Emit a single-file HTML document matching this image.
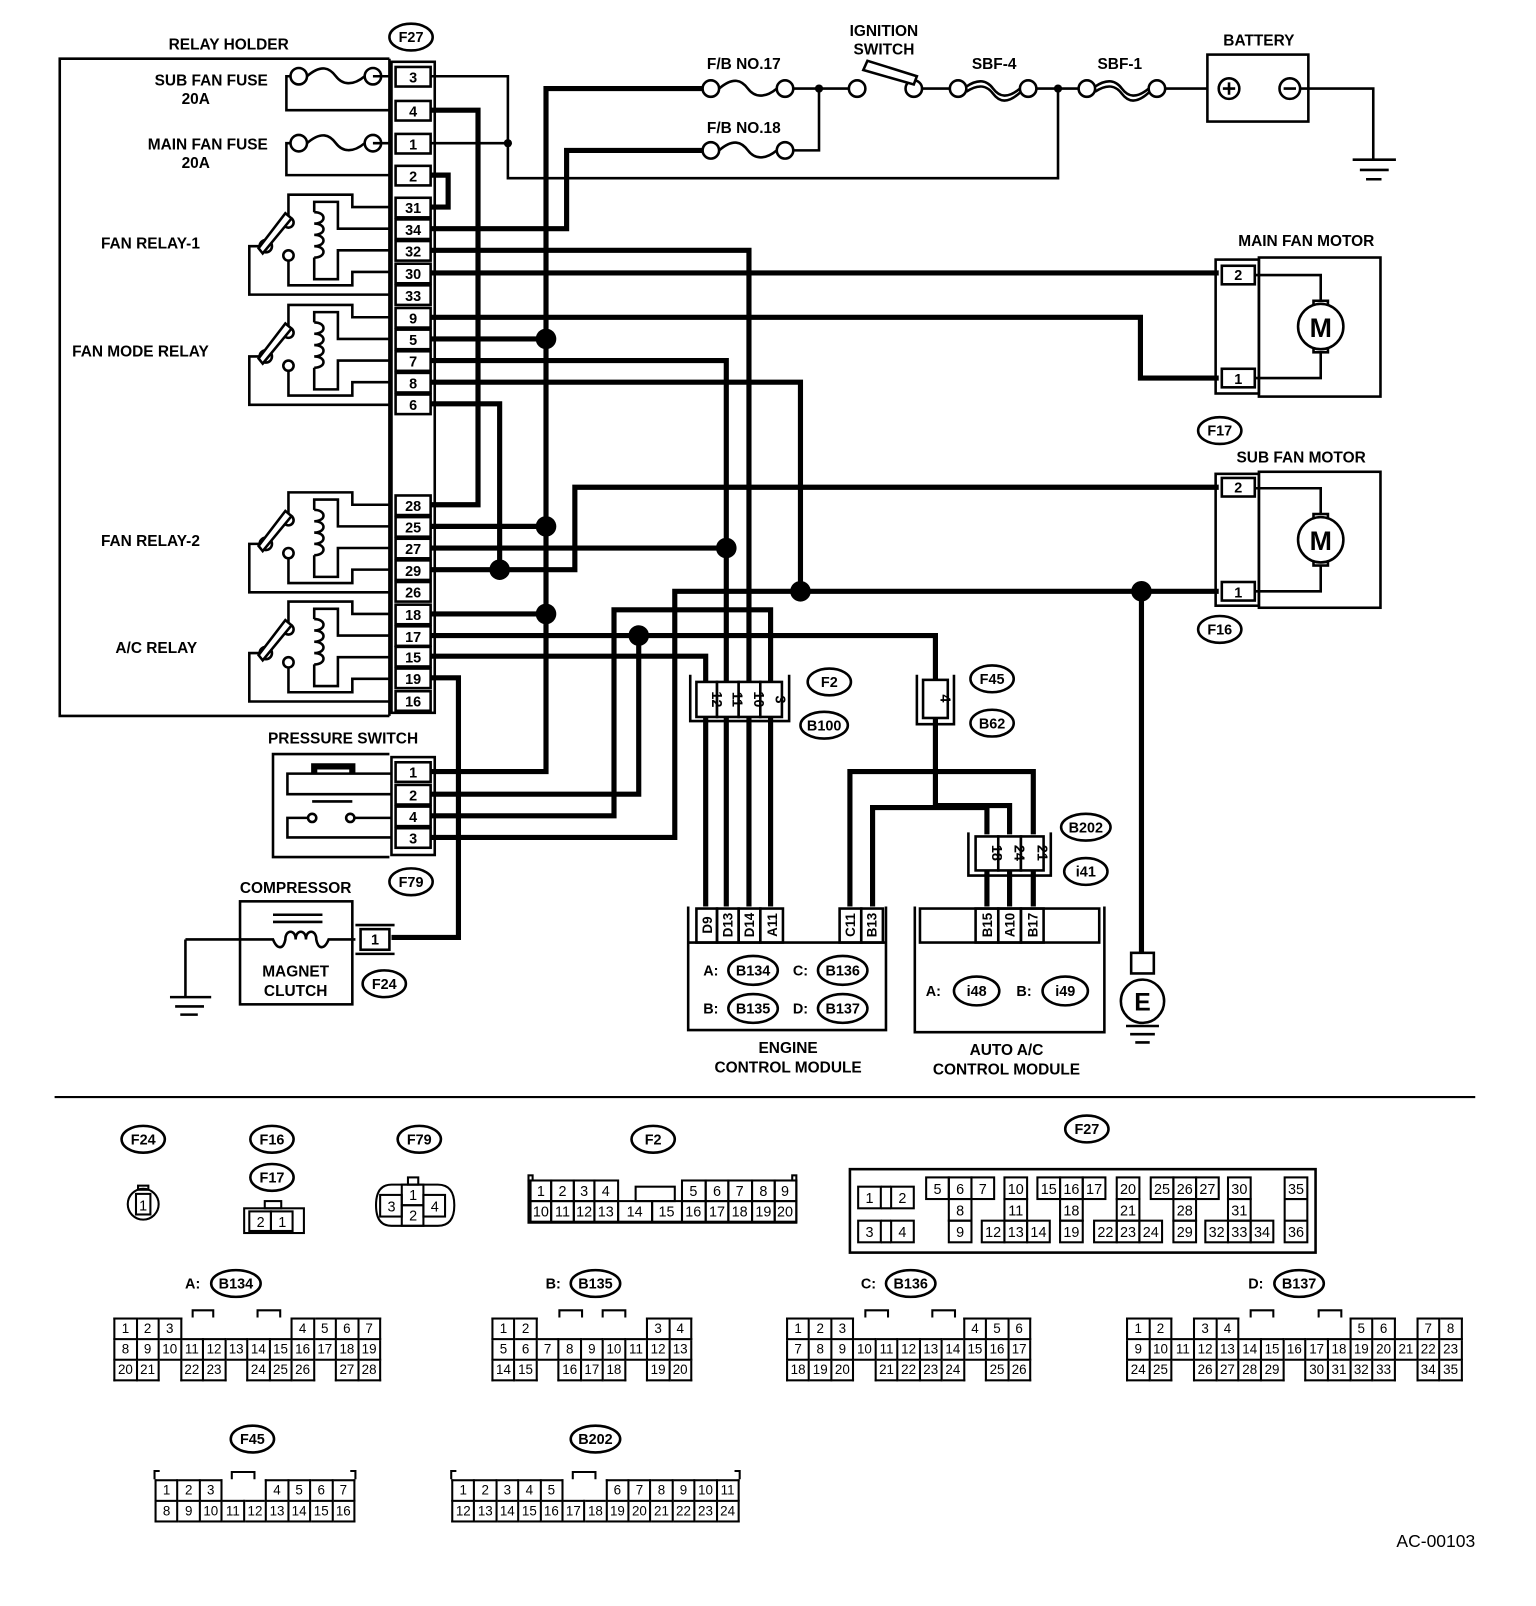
<!DOCTYPE html>
<html><head><meta charset="utf-8">
<style>
html,body{margin:0;padding:0;background:#fff;width:1536px;height:1606px;overflow:hidden}
#w{position:absolute;left:0;top:0;width:1491px;height:1559px;transform:scale(1.0302,1.0301);transform-origin:0 0}
svg{position:absolute;left:0;top:0}
svg text{font-family:"Liberation Sans",sans-serif;font-weight:bold;fill:#000}
svg .n text, svg text.n{font-weight:normal}
table{position:absolute;border-collapse:collapse;table-layout:fixed}
td{border:2px solid #000;padding:0;height:18px;font:13px "Liberation Sans",sans-serif;text-align:center;line-height:16px;overflow:hidden}
td.e{border:none}
</style></head><body><div id="w">
<svg width="1491" height="1559" viewBox="0 0 1491 1559">
<defs>
<g id="relay" fill="none" stroke="#000" stroke-width="2.5">
<path d="M378,0 H342 V-12 H280 V10"/>
<circle cx="280" cy="15" r="5" fill="#fff"/>
<path d="M378,21 H328 V-5 H305 V5"/>
<path d="M305,5 c12,0 12,11 0,11 c12,0 12,11 0,11 c12,0 12,11 0,11 c12,0 12,11 0,11"/>
<path d="M305,49 V70 H328 V42 H378"/>
<path d="M378,63 H342 V76 H280 V52"/>
<circle cx="280" cy="47" r="5" fill="#fff"/>
<circle cx="258" cy="38" r="6" fill="#fff"/>
<path d="M252,38 H242 V85 H378"/>
<path d="M255,45 L283,11 L277,6 L251,40 Z" fill="#fff"/>
</g>
<g id="fuse" fill="none" stroke="#000" stroke-width="2.5">
<circle cx="0" cy="0" r="8" fill="#fff"/><circle cx="72" cy="0" r="8" fill="#fff"/>
<path d="M8,0 C22,-12 30,-8 36,0 S52,10 64,0"/>
</g>
<g id="fuse2" fill="none" stroke="#000" stroke-width="2.5">
<circle cx="0" cy="0" r="8" fill="#fff"/><circle cx="68" cy="0" r="8" fill="#fff"/>
<path d="M8,-2 C20,-10 28,-8 34,0 S48,10 60,0"/><path d="M8,3 C20,-5 28,-3 34,5 S48,15 60,4"/>
</g>
</defs>

<g fill="none" stroke="#000" stroke-width="2.5">
<path d="M378,57 H58 V695 H378"/>
<line x1="378" y1="57" x2="378" y2="695"/>
<rect x="380" y="60" width="42" height="632"/>
</g>
<text x="222" y="48" font-size="15" text-anchor="middle">RELAY HOLDER</text>
<ellipse cx="399" cy="36" rx="21" ry="13" fill="none" stroke="#000" stroke-width="2.5"/><text x="399" y="41" font-size="14" text-anchor="middle">F27</text>
<text x="260" y="83" font-size="15" text-anchor="end">SUB FAN FUSE</text>
<text x="190" y="101" font-size="15" text-anchor="middle">20A</text>
<text x="260" y="145" font-size="15" text-anchor="end">MAIN FAN FUSE</text>
<text x="190" y="163" font-size="15" text-anchor="middle">20A</text>
<text x="98" y="241" font-size="15">FAN RELAY-1</text>
<text x="70" y="346" font-size="15">FAN MODE RELAY</text>
<text x="98" y="530" font-size="15">FAN RELAY-2</text>
<text x="112" y="634" font-size="15">A/C RELAY</text>

<use href="#fuse" x="290" y="74"/>
<use href="#fuse" x="290" y="139"/>
<g fill="none" stroke="#000" stroke-width="2.5">
<path d="M362,74 H380 M282,74 H278 V107 H380"/>
<path d="M362,139 H380 M282,139 H278 V170 H380"/>
</g>
<use href="#relay" y="201"/>
<use href="#relay" y="308"/>
<use href="#relay" y="490"/>
<use href="#relay" y="596"/>

<g fill="#fff" stroke="#000" stroke-width="2.5">
<rect x="384" y="65" width="34" height="19"/><rect x="384" y="98" width="34" height="19"/><rect x="384" y="130" width="34" height="19"/><rect x="384" y="161" width="34" height="19"/>
<rect x="384" y="192" width="34" height="19"/><rect x="384" y="213" width="34" height="19"/><rect x="384" y="234" width="34" height="19"/><rect x="384" y="256" width="34" height="19"/><rect x="384" y="277" width="34" height="19"/>
<rect x="384" y="299" width="34" height="19"/><rect x="384" y="320" width="34" height="19"/><rect x="384" y="341" width="34" height="19"/><rect x="384" y="362" width="34" height="19"/><rect x="384" y="383" width="34" height="19"/>
<rect x="384" y="481" width="34" height="19"/><rect x="384" y="502" width="34" height="19"/><rect x="384" y="523" width="34" height="19"/><rect x="384" y="544" width="34" height="19"/><rect x="384" y="565" width="34" height="19"/>
<rect x="384" y="587" width="34" height="19"/><rect x="384" y="608" width="34" height="19"/><rect x="384" y="628" width="34" height="19"/><rect x="384" y="649" width="34" height="19"/><rect x="384" y="671" width="34" height="19"/>
</g>
<g font-size="14" text-anchor="middle">
<text x="401" y="80">3</text><text x="401" y="113">4</text><text x="401" y="145">1</text><text x="401" y="176">2</text>
<text x="401" y="207">31</text><text x="401" y="228">34</text><text x="401" y="249">32</text><text x="401" y="271">30</text><text x="401" y="292">33</text>
<text x="401" y="314">9</text><text x="401" y="335">5</text><text x="401" y="356">7</text><text x="401" y="377">8</text><text x="401" y="398">6</text>
<text x="401" y="496">28</text><text x="401" y="517">25</text><text x="401" y="538">27</text><text x="401" y="559">29</text><text x="401" y="580">26</text>
<text x="401" y="602">18</text><text x="401" y="623">17</text><text x="401" y="643">15</text><text x="401" y="664">19</text><text x="401" y="686">16</text>
</g>

<g fill="none" stroke="#000" stroke-width="2.5">
<path d="M418,74 H493 V173 H1027 V86"/>
<path d="M418,139 H493"/>
<path d="M768,86 H832 M895,86 H922 M1006,86 H1047 M1131,86 H1172"/>
<path d="M768,146 H795 V86"/>
<path d="M1262,86 H1333 V155"/>
<path d="M1313,155 H1355 M1320,165 H1348 M1326,174 H1341"/>
</g>
<circle cx="493" cy="139" r="4"/><circle cx="795" cy="86" r="4"/><circle cx="1027" cy="86" r="4"/>

<g fill="none" stroke="#000" stroke-width="5">
<path d="M418,170 H435 V201 H418"/>
<path d="M418,107 H464 V490 H418"/>
<path d="M682,86 H530 V749 H418"/>
<path d="M418,222 H550 V146 H682"/>
<path d="M418,243 H727 V880"/>
<path d="M418,265 H1183"/>
<path d="M418,308 H1107 V367 H1183"/>
<path d="M418,329 H530"/>
<path d="M418,350 H705 V880"/>
<path d="M418,371 H777 V574"/>
<path d="M418,392 H485 V553"/>
<path d="M418,511 H530"/>
<path d="M418,532 H705"/>
<path d="M418,553 H558 V473 H1183"/>
<path d="M418,596 H530"/>
<path d="M418,617 H908 V782 H980 V810"/>
<path d="M620,617 V771 H418"/>
<path d="M418,637 H685 V880"/>
<path d="M418,658 H445 V910 H380"/>
<path d="M418,792 H596 V592 H748 V880"/>
<path d="M418,813 H655 V574 H1183"/>
<path d="M1108,574 V925"/>
<path d="M825,880 V749 H1003 V810"/>
<path d="M847,880 V784 H958 V810"/>
<path d="M958,845 V880 M980,845 V880 M1003,845 V880"/>
</g>
<g>
<circle cx="530" cy="329" r="10"/><circle cx="530" cy="511" r="10"/><circle cx="530" cy="596" r="10"/><circle cx="485" cy="553" r="10"/>
<circle cx="705" cy="532" r="10"/><circle cx="777" cy="574" r="10"/><circle cx="620" cy="617" r="10"/><circle cx="1108" cy="574" r="10"/>
</g>

<use href="#fuse" x="690" y="86"/>
<use href="#fuse" x="690" y="146"/>
<text x="722" y="67" font-size="15" text-anchor="middle">F/B NO.17</text>
<text x="722" y="129" font-size="15" text-anchor="middle">F/B NO.18</text>
<text x="858" y="35" font-size="15" text-anchor="middle">IGNITION</text>
<text x="858" y="53" font-size="15" text-anchor="middle">SWITCH</text>
<g fill="#fff" stroke="#000" stroke-width="2.5">
<circle cx="832" cy="86" r="8"/><circle cx="887" cy="86" r="8"/>
<path d="M838,68 L887,82 L890,74 L842,59 Z"/>
</g>
<use href="#fuse2" x="930" y="86"/>
<use href="#fuse2" x="1055" y="86"/>
<text x="965" y="67" font-size="15" text-anchor="middle">SBF-4</text>
<text x="1087" y="67" font-size="15" text-anchor="middle">SBF-1</text>
<text x="1222" y="44" font-size="15" text-anchor="middle">BATTERY</text>
<g fill="none" stroke="#000" stroke-width="2.5">
<rect x="1172" y="53" width="98" height="65"/>
<circle cx="1193" cy="86" r="10"/><circle cx="1252" cy="86" r="10"/>
<path d="M1187,86 H1199 M1193,80 V92 M1246,86 H1258"/>
</g>

<text x="1268" y="239" font-size="15" text-anchor="middle">MAIN FAN MOTOR</text>
<text x="1263" y="449" font-size="15" text-anchor="middle">SUB FAN MOTOR</text>
<g fill="none" stroke="#000" stroke-width="2.5">
<rect x="1180" y="252" width="42" height="130"/><rect x="1186" y="258" width="32" height="18"/><rect x="1186" y="358" width="32" height="18"/>
<rect x="1222" y="250" width="118" height="135"/>
<path d="M1218,267 H1282 V292 M1218,367 H1282 V342"/>
<rect x="1275" y="292" width="14" height="50" fill="#fff"/>
<circle cx="1282" cy="317" r="22" fill="#fff"/>
<rect x="1180" y="460" width="42" height="128"/><rect x="1186" y="464" width="32" height="18"/><rect x="1186" y="565" width="32" height="18"/>
<rect x="1222" y="458" width="118" height="132"/>
<path d="M1218,474 H1282 V499 M1218,574 H1282 V549"/>
<rect x="1275" y="499" width="14" height="50" fill="#fff"/>
<circle cx="1282" cy="524" r="22" fill="#fff"/>
</g>
<text x="1282" y="327" font-size="26" text-anchor="middle">M</text>
<text x="1282" y="534" font-size="26" text-anchor="middle">M</text>
<text x="1202" y="272" font-size="14" text-anchor="middle">2</text><text x="1202" y="373" font-size="14" text-anchor="middle">1</text>
<text x="1202" y="478" font-size="14" text-anchor="middle">2</text><text x="1202" y="580" font-size="14" text-anchor="middle">1</text>
<g fill="none" stroke="#000" stroke-width="2.5">
<ellipse cx="1184" cy="418" rx="21" ry="13"/><ellipse cx="1184" cy="611" rx="21" ry="13"/>
</g>
<text x="1184" y="423" font-size="14" text-anchor="middle">F17</text><text x="1184" y="616" font-size="14" text-anchor="middle">F16</text>

<text x="333" y="722" font-size="15" text-anchor="middle">PRESSURE SWITCH</text>
<g fill="none" stroke="#000" stroke-width="2.5">
<path d="M378,732 H265 V832 H378"/><rect x="380" y="735" width="42" height="95"/>
<rect x="384" y="740" width="34" height="19" fill="#fff"/><rect x="384" y="762" width="34" height="19" fill="#fff"/><rect x="384" y="783" width="34" height="19" fill="#fff"/><rect x="384" y="804" width="34" height="19" fill="#fff"/>
<path d="M380,751 H279 V771 H380"/>
<path d="M380,794 H345 M299,794 H279 V813 H380"/>
<circle cx="303" cy="794" r="4"/><circle cx="340" cy="794" r="4"/>
<path d="M303,778 H342"/>
</g>
<path d="M305,751 V744 H342 V751" fill="none" stroke="#000" stroke-width="6"/>
<g font-size="14" text-anchor="middle"><text x="401" y="755">1</text><text x="401" y="777">2</text><text x="401" y="798">4</text><text x="401" y="819">3</text></g>
<ellipse cx="399" cy="856" rx="21" ry="13" fill="none" stroke="#000" stroke-width="2.5"/><text x="399" y="861" font-size="14" text-anchor="middle">F79</text>

<text x="287" y="867" font-size="15" text-anchor="middle">COMPRESSOR</text>
<g fill="none" stroke="#000" stroke-width="2.5">
<rect x="233" y="875" width="109" height="100"/>
<path d="M265,888 H313 M265,895 H313"/>
<path d="M180,912 H265 c4,10 10,10 12,0 c0,-10 10,-10 10,0 c0,-10 10,-10 10,0 c0,-10 10,-10 10,0 c2,10 8,10 12,0 H345"/>
<path d="M180,912 V968 M165,968 H205 M170,977 H198 M175,985 H192"/>
<path d="M345,898 H383 M345,926 H383"/>
<rect x="350" y="902" width="28" height="20" fill="#fff"/>
</g>
<text x="364" y="917" font-size="14" text-anchor="middle">1</text>
<text x="287" y="948" font-size="15" text-anchor="middle">MAGNET</text>
<text x="287" y="967" font-size="15" text-anchor="middle">CLUTCH</text>
<ellipse cx="373" cy="955" rx="21" ry="13" fill="none" stroke="#000" stroke-width="2.5"/><text x="373" y="960" font-size="14" text-anchor="middle">F24</text>

<g fill="none" stroke="#000" stroke-width="2.5">
<path d="M670,655 V700 H766 V655"/>
<rect x="676" y="662" width="20" height="34" fill="#fff"/><rect x="696" y="662" width="21" height="34" fill="#fff"/><rect x="717" y="662" width="21" height="34" fill="#fff"/><rect x="738" y="662" width="21" height="34" fill="#fff"/>
<path d="M890,655 V703 H926 V655"/><rect x="896" y="660" width="24" height="37" fill="#fff"/>
<path d="M940,808 V850 H1020 V808"/>
<rect x="947" y="812" width="22" height="33" fill="#fff"/><rect x="969" y="812" width="22" height="33" fill="#fff"/><rect x="991" y="812" width="22" height="33" fill="#fff"/>
</g>
<g font-size="14" text-anchor="middle">
<text transform="translate(691,679) rotate(90)">12</text><text transform="translate(711,679) rotate(90)">11</text><text transform="translate(732,679) rotate(90)">10</text><text transform="translate(753,679) rotate(90)">3</text>
<text transform="translate(913,678) rotate(90)">4</text>
<text transform="translate(963,828) rotate(90)">18</text><text transform="translate(985,828) rotate(90)">24</text><text transform="translate(1007,828) rotate(90)">21</text>
</g>
<g fill="none" stroke="#000" stroke-width="2.5">
<ellipse cx="805" cy="662" rx="21" ry="13"/><ellipse cx="800" cy="704" rx="23" ry="13"/>
<ellipse cx="963" cy="659" rx="21" ry="13"/><ellipse cx="963" cy="702" rx="21" ry="13"/>
<ellipse cx="1054" cy="803" rx="24" ry="13"/><ellipse cx="1054" cy="846" rx="21" ry="13"/>
</g>
<g font-size="14" text-anchor="middle">
<text x="805" y="667">F2</text><text x="800" y="709">B100</text><text x="963" y="664">F45</text><text x="963" y="707">B62</text><text x="1054" y="808">B202</text><text x="1054" y="851">i41</text>
</g>

<g fill="none" stroke="#000" stroke-width="2.5">
<path d="M668,880 V1000 H860 V880"/><path d="M668,915 H860"/>
<rect x="676" y="882" width="20" height="33"/><rect x="696" y="882" width="21" height="33"/><rect x="717" y="882" width="21" height="33"/><rect x="738" y="882" width="22" height="33"/>
<rect x="815" y="882" width="21" height="33"/><rect x="836" y="882" width="21" height="33"/>
<path d="M888,880 V1002 H1072 V880"/><rect x="893" y="882" width="174" height="33"/>
<rect x="947" y="882" width="22" height="33"/><rect x="969" y="882" width="22" height="33"/><rect x="991" y="882" width="22" height="33"/>
</g>
<g font-size="13" text-anchor="middle">
<text transform="translate(691,898) rotate(-90)">D9</text><text transform="translate(711,898) rotate(-90)">D13</text><text transform="translate(732,898) rotate(-90)">D14</text><text transform="translate(754,898) rotate(-90)">A11</text>
<text transform="translate(830,898) rotate(-90)">C11</text><text transform="translate(851,898) rotate(-90)">B13</text>
<text transform="translate(963,898) rotate(-90)">B15</text><text transform="translate(985,898) rotate(-90)">A10</text><text transform="translate(1007,898) rotate(-90)">B17</text>
</g>
<g fill="none" stroke="#000" stroke-width="2.5">
<ellipse cx="731" cy="942" rx="24" ry="14"/><ellipse cx="818" cy="942" rx="24" ry="14"/><ellipse cx="731" cy="979" rx="24" ry="14"/><ellipse cx="818" cy="979" rx="24" ry="14"/>
<ellipse cx="948" cy="962" rx="22" ry="14"/><ellipse cx="1034" cy="962" rx="22" ry="14"/>
</g>
<g font-size="14" text-anchor="middle">
<text x="690" y="947">A:</text><text x="731" y="947">B134</text><text x="777" y="947">C:</text><text x="818" y="947">B136</text>
<text x="690" y="984">B:</text><text x="731" y="984">B135</text><text x="777" y="984">D:</text><text x="818" y="984">B137</text>
<text x="906" y="967">A:</text><text x="948" y="967">i48</text><text x="994" y="967">B:</text><text x="1034" y="967">i49</text>
</g>
<g font-size="15" text-anchor="middle">
<text x="765" y="1022">ENGINE</text><text x="765" y="1041">CONTROL MODULE</text>
<text x="977" y="1024">AUTO A/C</text><text x="977" y="1043">CONTROL MODULE</text>
</g>
<g fill="none" stroke="#000" stroke-width="2.5">
<rect x="1098" y="925" width="22" height="20"/><circle cx="1109" cy="972" r="21"/>
<path d="M1093,996 H1125 M1097,1004 H1121 M1102,1012 H1116"/>
</g>
<text x="1109" y="981" font-size="24" text-anchor="middle">E</text>

<line x1="53" y1="1065" x2="1432" y2="1065" stroke="#000" stroke-width="2"/>

<g fill="none" stroke="#000" stroke-width="2.5">
<ellipse cx="139" cy="1106" rx="21" ry="13"/><ellipse cx="264" cy="1106" rx="21" ry="13"/><ellipse cx="264" cy="1143" rx="21" ry="13"/><ellipse cx="407" cy="1106" rx="21" ry="13"/>
<ellipse cx="634" cy="1106" rx="21" ry="13"/><ellipse cx="1055" cy="1096" rx="21" ry="13"/>
<ellipse cx="229" cy="1246" rx="24" ry="13"/><ellipse cx="578" cy="1246" rx="24" ry="13"/><ellipse cx="884" cy="1246" rx="24" ry="13"/><ellipse cx="1261" cy="1246" rx="24" ry="13"/>
<ellipse cx="245" cy="1397" rx="21" ry="13"/><ellipse cx="578" cy="1397" rx="24" ry="13"/>
</g>
<g font-size="14" text-anchor="middle">
<text x="139" y="1111">F24</text><text x="264" y="1111">F16</text><text x="264" y="1148">F17</text><text x="407" y="1111">F79</text>
<text x="634" y="1111">F2</text><text x="1055" y="1101">F27</text>
<text x="229" y="1251">B134</text><text x="578" y="1251">B135</text><text x="884" y="1251">B136</text><text x="1261" y="1251">B137</text>
<text x="245" y="1402">F45</text><text x="578" y="1402">B202</text>
<text x="187" y="1251">A:</text><text x="537" y="1251">B:</text><text x="843" y="1251">C:</text><text x="1219" y="1251">D:</text>
</g>
<g fill="none" stroke="#000" stroke-width="2">
<circle cx="139" cy="1169" r="15"/><rect x="132" y="1159" width="14" height="20"/><rect x="134" y="1151" width="10" height="4"/>
<rect x="237" y="1173" width="58" height="24"/><rect x="242" y="1176" width="21" height="19"/><rect x="263" y="1176" width="21" height="19"/><rect x="257" y="1166" width="16" height="7"/>
<path d="M380,1150 H425 Q441,1150 441,1170 Q441,1190 425,1190 H380 Q365,1190 365,1170 Q365,1150 380,1150 Z"/>
<rect x="369" y="1160" width="21" height="21"/><rect x="390" y="1150" width="21" height="20"/><rect x="390" y="1170" width="21" height="20"/><rect x="411" y="1160" width="21" height="21"/><rect x="396" y="1143" width="10" height="7"/>
</g>
<g class="n" font-size="14" text-anchor="middle">
<text x="139" y="1175">1</text><text x="253" y="1191">2</text><text x="274" y="1191">1</text>
<text x="380" y="1176">3</text><text x="401" y="1165">1</text><text x="401" y="1185">2</text><text x="422" y="1176">4</text>
</g>
<g fill="none" stroke="#000" stroke-width="2">
<path d="M513,1145 V1187 H773 V1145"/><rect x="513" y="1141" width="4" height="5"/><rect x="769" y="1141" width="4" height="5"/>
<rect x="515" y="1146" width="20" height="20"/><rect x="535" y="1146" width="22" height="20"/><rect x="557" y="1146" width="20" height="20"/><rect x="577" y="1146" width="23" height="20"/>
<rect x="617" y="1152" width="38" height="14"/>
<rect x="662" y="1146" width="23" height="20"/><rect x="685" y="1146" width="22" height="20"/><rect x="707" y="1146" width="23" height="20"/><rect x="730" y="1146" width="22" height="20"/><rect x="752" y="1146" width="21" height="20"/>
<rect x="515" y="1166" width="20" height="20"/><rect x="535" y="1166" width="22" height="20"/><rect x="557" y="1166" width="20" height="20"/><rect x="577" y="1166" width="23" height="20"/><rect x="600" y="1166" width="33" height="20"/><rect x="633" y="1166" width="29" height="20"/>
<rect x="662" y="1166" width="23" height="20"/><rect x="685" y="1166" width="22" height="20"/><rect x="707" y="1166" width="23" height="20"/><rect x="730" y="1166" width="22" height="20"/><rect x="752" y="1166" width="21" height="20"/>
</g>
<g class="n" font-size="14" text-anchor="middle">
<text x="525" y="1161">1</text><text x="546" y="1161">2</text><text x="567" y="1161">3</text><text x="588" y="1161">4</text>
<text x="673" y="1161">5</text><text x="696" y="1161">6</text><text x="718" y="1161">7</text><text x="741" y="1161">8</text><text x="762" y="1161">9</text>
<text x="525" y="1181">10</text><text x="546" y="1181">11</text><text x="567" y="1181">12</text><text x="588" y="1181">13</text><text x="616" y="1181">14</text><text x="647" y="1181">15</text>
<text x="673" y="1181">16</text><text x="696" y="1181">17</text><text x="718" y="1181">18</text><text x="741" y="1181">19</text><text x="762" y="1181">20</text>
</g>
<g fill="none" stroke="#000" stroke-width="2">
<rect x="825" y="1135" width="452" height="81" stroke-width="2.5"/>
<rect x="833" y="1152" width="22" height="21"/><rect x="865" y="1152" width="22" height="21"/><path d="M855,1152 H865 M855,1173 H865"/>
<rect x="833" y="1185" width="22" height="21"/><rect x="865" y="1185" width="22" height="21"/><path d="M855,1185 H865 M855,1206 H865"/>
<rect x="899" y="1143" width="22" height="21"/><rect x="921" y="1143" width="22" height="21"/><rect x="943" y="1143" width="22" height="21"/><rect x="921" y="1164" width="22" height="21"/><rect x="921" y="1185" width="22" height="21"/>
<rect x="975" y="1143" width="22" height="21"/><rect x="975" y="1164" width="22" height="21"/><rect x="953" y="1185" width="22" height="21"/><rect x="975" y="1185" width="22" height="21"/><rect x="997" y="1185" width="22" height="21"/>
<rect x="1007" y="1143" width="22" height="21"/><rect x="1029" y="1143" width="22" height="21"/><rect x="1051" y="1143" width="22" height="21"/><rect x="1029" y="1164" width="22" height="21"/><rect x="1029" y="1185" width="22" height="21"/>
<rect x="1084" y="1143" width="22" height="21"/><rect x="1084" y="1164" width="22" height="21"/><rect x="1062" y="1185" width="22" height="21"/><rect x="1084" y="1185" width="22" height="21"/><rect x="1106" y="1185" width="22" height="21"/>
<rect x="1117" y="1143" width="22" height="21"/><rect x="1139" y="1143" width="22" height="21"/><rect x="1161" y="1143" width="22" height="21"/><rect x="1139" y="1164" width="22" height="21"/><rect x="1139" y="1185" width="22" height="21"/>
<rect x="1192" y="1143" width="22" height="21"/><rect x="1192" y="1164" width="22" height="21"/><rect x="1170" y="1185" width="22" height="21"/><rect x="1192" y="1185" width="22" height="21"/><rect x="1214" y="1185" width="22" height="21"/>
<rect x="1247" y="1143" width="22" height="63"/><path d="M1247,1164 H1269 M1247,1185 H1269"/>
</g>
<g class="n" font-size="14" text-anchor="middle">
<text x="844" y="1168">1</text><text x="876" y="1168">2</text><text x="844" y="1201">3</text><text x="876" y="1201">4</text>
<text x="910" y="1159">5</text><text x="932" y="1159">6</text><text x="954" y="1159">7</text><text x="932" y="1180">8</text><text x="932" y="1201">9</text>
<text x="986" y="1159">10</text><text x="986" y="1180">11</text><text x="964" y="1201">12</text><text x="986" y="1201">13</text><text x="1008" y="1201">14</text>
<text x="1018" y="1159">15</text><text x="1040" y="1159">16</text><text x="1062" y="1159">17</text><text x="1040" y="1180">18</text><text x="1040" y="1201">19</text>
<text x="1095" y="1159">20</text><text x="1095" y="1180">21</text><text x="1073" y="1201">22</text><text x="1095" y="1201">23</text><text x="1117" y="1201">24</text>
<text x="1128" y="1159">25</text><text x="1150" y="1159">26</text><text x="1172" y="1159">27</text><text x="1150" y="1180">28</text><text x="1150" y="1201">29</text>
<text x="1203" y="1159">30</text><text x="1203" y="1180">31</text><text x="1181" y="1201">32</text><text x="1203" y="1201">33</text><text x="1225" y="1201">34</text>
<text x="1258" y="1159">35</text><text x="1258" y="1201">36</text>
</g>
<g fill="none" stroke="#000" stroke-width="2">
<path d="M187,1279 V1272 H207 V1279 M250,1279 V1272 H272 V1279"/>
<path d="M543,1279 V1272 H565 V1279 M585,1279 V1272 H607 V1279"/>
<path d="M840,1279 V1272 H862 V1279 M905,1279 V1272 H927 V1279"/>
<path d="M1214,1279 V1272 H1236 V1279 M1280,1279 V1272 H1302 V1279"/>
<path d="M150,1436 V1428 H155 M345,1436 V1428 H340 M225,1436 V1429 H247 V1436"/>
<path d="M438,1436 V1428 H443 M718,1436 V1428 H713 M556,1436 V1429 H578 V1436"/>
</g>
<text class="n" x="1432" y="1502" font-size="17" text-anchor="end">AC-00103</text>
</svg>

<table style="left:110px;top:1279px;width:260px"><tr><td>1</td><td>2</td><td>3</td><td class=e></td><td class=e></td><td class=e></td><td class=e></td><td class=e></td><td>4</td><td>5</td><td>6</td><td>7</td></tr><tr><td>8</td><td>9</td><td>10</td><td>11</td><td>12</td><td>13</td><td>14</td><td>15</td><td>16</td><td>17</td><td>18</td><td>19</td></tr><tr><td>20</td><td>21</td><td class=e></td><td>22</td><td>23</td><td class=e></td><td>24</td><td>25</td><td>26</td><td class=e></td><td>27</td><td>28</td></tr></table>
<table style="left:477px;top:1279px;width:195px"><tr><td>1</td><td>2</td><td class=e></td><td class=e></td><td class=e></td><td class=e></td><td class=e></td><td>3</td><td>4</td></tr><tr><td>5</td><td>6</td><td>7</td><td>8</td><td>9</td><td>10</td><td>11</td><td>12</td><td>13</td></tr><tr><td>14</td><td>15</td><td class=e></td><td>16</td><td>17</td><td>18</td><td class=e></td><td>19</td><td>20</td></tr></table>
<table style="left:763px;top:1279px;width:238px"><tr><td>1</td><td>2</td><td>3</td><td class=e></td><td class=e></td><td class=e></td><td class=e></td><td class=e></td><td>4</td><td>5</td><td>6</td></tr><tr><td>7</td><td>8</td><td>9</td><td>10</td><td>11</td><td>12</td><td>13</td><td>14</td><td>15</td><td>16</td><td>17</td></tr><tr><td>18</td><td>19</td><td>20</td><td class=e></td><td>21</td><td>22</td><td>23</td><td>24</td><td class=e></td><td>25</td><td>26</td></tr></table>
<table style="left:1093px;top:1279px;width:327px"><tr><td>1</td><td>2</td><td class=e></td><td>3</td><td>4</td><td class=e></td><td class=e></td><td class=e></td><td class=e></td><td class=e></td><td>5</td><td>6</td><td class=e></td><td>7</td><td>8</td></tr><tr><td>9</td><td>10</td><td>11</td><td>12</td><td>13</td><td>14</td><td>15</td><td>16</td><td>17</td><td>18</td><td>19</td><td>20</td><td>21</td><td>22</td><td>23</td></tr><tr><td>24</td><td>25</td><td class=e></td><td>26</td><td>27</td><td>28</td><td>29</td><td class=e></td><td>30</td><td>31</td><td>32</td><td>33</td><td class=e></td><td>34</td><td>35</td></tr></table>
<table style="left:150px;top:1436px;width:195px"><tr><td>1</td><td>2</td><td>3</td><td class=e></td><td class=e></td><td>4</td><td>5</td><td>6</td><td>7</td></tr><tr><td>8</td><td>9</td><td>10</td><td>11</td><td>12</td><td>13</td><td>14</td><td>15</td><td>16</td></tr></table>
<table style="left:438px;top:1436px;width:280px"><tr><td>1</td><td>2</td><td>3</td><td>4</td><td>5</td><td class=e></td><td class=e></td><td>6</td><td>7</td><td>8</td><td>9</td><td>10</td><td>11</td></tr><tr><td>12</td><td>13</td><td>14</td><td>15</td><td>16</td><td>17</td><td>18</td><td>19</td><td>20</td><td>21</td><td>22</td><td>23</td><td>24</td></tr></table>
</div></body></html>
